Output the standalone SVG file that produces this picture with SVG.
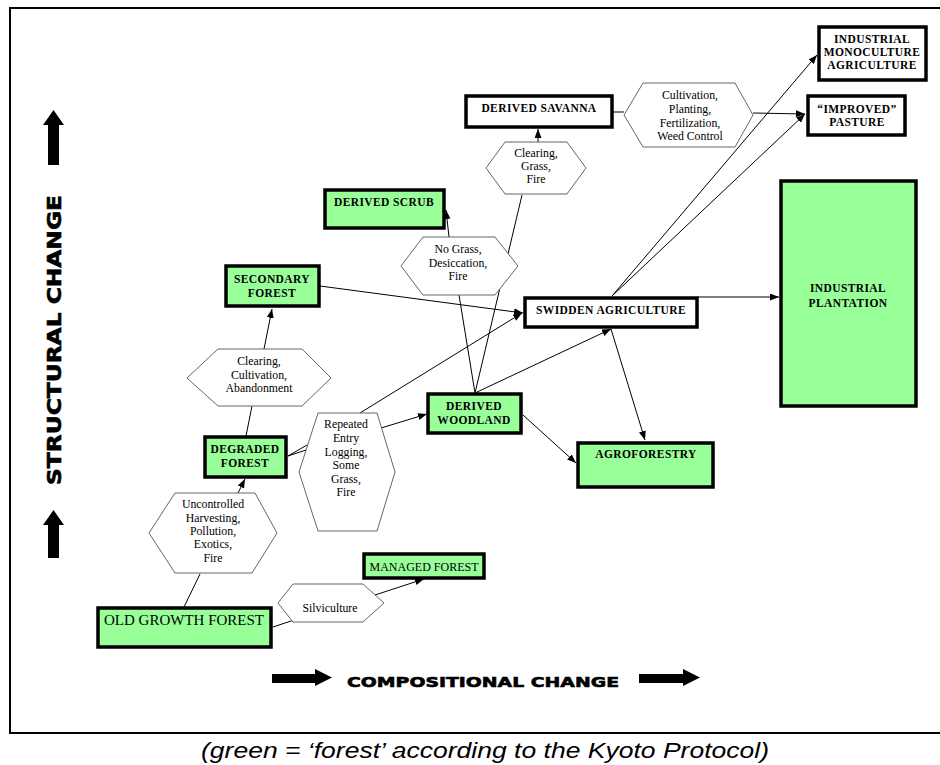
<svg xmlns="http://www.w3.org/2000/svg" width="940" height="765" viewBox="0 0 940 765">
<style>
.box{stroke:#000;stroke-width:3.5}
.g{fill:#99ff99}
.w{fill:#fff}
.hex{fill:#fff;stroke:#666;stroke-width:1}
.lb{font-family:"Liberation Serif","Times New Roman",serif;font-weight:bold;font-size:11.5px;letter-spacing:0.4px;fill:#000;text-anchor:middle}
.ht{font-family:"Liberation Serif","Times New Roman",serif;font-size:11.8px;fill:#000;text-anchor:middle}
.cn line{stroke:#000;stroke-width:1}
.ax{font-family:"DejaVu Sans","Liberation Sans",sans-serif;font-weight:bold;fill:#000;stroke:#000;stroke-width:0.6}
</style>
<defs>
<marker id="ah" markerUnits="userSpaceOnUse" markerWidth="10" markerHeight="8" refX="9" refY="3.5" orient="auto">
<path d="M0,0 L9,3.5 L0,7 z" fill="#000"/>
</marker>
</defs>
<rect x="0" y="0" width="940" height="765" fill="#fff"/>
<!-- frame -->
<path d="M942,8 L10,8 L10,733 L942,733" fill="none" stroke="#000" stroke-width="2"/>

<!-- axis arrows -->
<g id="axis">
<polygon points="53.5,110 64,125 59,125 59,165 48,165 48,125 43,125" fill="#000"/>
<polygon points="53.5,510 64,525 59,525 59,558 48,558 48,525 43,525" fill="#000"/>
<polygon points="272,674 315,674 315,669 332,677.5 315,686 315,683 272,683" fill="#000"/>
<polygon points="639,674 683,674 683,669 700,677.5 683,686 683,683 639,683" fill="#000"/>
<text class="ax" x="0" y="0" font-size="19" textLength="290" lengthAdjust="spacingAndGlyphs" transform="translate(61,485) rotate(-90)">STRUCTURAL CHANGE</text>
<text class="ax" x="347" y="687" font-size="14" textLength="272" lengthAdjust="spacingAndGlyphs">COMPOSITIONAL CHANGE</text>
</g>

<!-- connectors -->
<g id="connectors" class="cn">
<line x1="184" y1="607" x2="200" y2="574"/>
<line x1="238" y1="493" x2="245" y2="479" marker-end="url(#ah)"/>
<line x1="246" y1="436" x2="252" y2="406"/>
<line x1="264" y1="349" x2="272" y2="309" marker-end="url(#ah)"/>
<line x1="320" y1="286" x2="523" y2="313" marker-end="url(#ah)"/>
<line x1="288" y1="456" x2="307" y2="445"/>
<line x1="288" y1="456" x2="309" y2="449"/>
<line x1="360" y1="413" x2="522" y2="313" marker-end="url(#ah)"/>
<line x1="381" y1="428" x2="427" y2="414" marker-end="url(#ah)"/>
<line x1="475" y1="393" x2="459" y2="295"/>
<line x1="449" y1="237" x2="446" y2="210" marker-end="url(#ah)"/>
<line x1="475" y1="393" x2="522" y2="195"/>
<line x1="538" y1="142" x2="538" y2="129" marker-end="url(#ah)"/>
<line x1="475" y1="393" x2="611" y2="329" marker-end="url(#ah)"/>
<line x1="523" y1="415" x2="576" y2="463" marker-end="url(#ah)"/>
<line x1="611" y1="329" x2="645" y2="440" marker-end="url(#ah)"/>
<line x1="698" y1="297" x2="779" y2="297" marker-end="url(#ah)"/>
<line x1="612" y1="296" x2="817" y2="55" marker-end="url(#ah)"/>
<line x1="612" y1="296" x2="805" y2="114" marker-end="url(#ah)"/>
<line x1="613" y1="112" x2="624" y2="112"/>
<line x1="753" y1="113" x2="805" y2="114" marker-end="url(#ah)"/>
<line x1="273" y1="627" x2="297" y2="619"/>
<line x1="375" y1="595" x2="424" y2="579" marker-end="url(#ah)"/>
</g>

<!-- process hexagons -->
<g id="hex-uncontrolled">
<polygon class="hex" points="175,493 255,493 277,533 252,573 175,573 149,533"/>
<text class="ht" x="213" y="508">Uncontrolled</text>
<text class="ht" x="213" y="522">Harvesting,</text>
<text class="ht" x="213" y="535">Pollution,</text>
<text class="ht" x="213" y="548">Exotics,</text>
<text class="ht" x="213" y="562">Fire</text>
</g>
<g id="hex-clearing-cultivation">
<polygon class="hex" points="218,349 302,349 331,378 302,406 218,406 187,378"/>
<text class="ht" x="259" y="365">Clearing,</text>
<text class="ht" x="259" y="379">Cultivation,</text>
<text class="ht" x="259" y="392">Abandonment</text>
</g>
<g id="hex-repeated">
<polygon class="hex" points="318,413 377,413 395,472 377,531 318,531 299,472"/>
<text class="ht" x="346" y="428">Repeated</text>
<text class="ht" x="346" y="442">Entry</text>
<text class="ht" x="346" y="456">Logging,</text>
<text class="ht" x="346" y="469">Some</text>
<text class="ht" x="346" y="483">Grass,</text>
<text class="ht" x="346" y="496">Fire</text>
</g>
<g id="hex-nograss">
<polygon class="hex" points="423,237 495,237 518,266 495,295 423,295 401,266"/>
<text class="ht" x="458" y="253">No Grass,</text>
<text class="ht" x="458" y="267">Desiccation,</text>
<text class="ht" x="458" y="280">Fire</text>
</g>
<g id="hex-clearing-grass">
<polygon class="hex" points="505,142 567,142 586,168 567,194 505,194 486,168"/>
<text class="ht" x="536" y="157">Clearing,</text>
<text class="ht" x="536" y="170">Grass,</text>
<text class="ht" x="536" y="183">Fire</text>
</g>
<g id="hex-cultivation">
<polygon class="hex" points="643,83 735,83 753,115 735,147 643,147 624,115"/>
<text class="ht" x="690" y="99">Cultivation,</text>
<text class="ht" x="690" y="113">Planting,</text>
<text class="ht" x="690" y="127">Fertilization,</text>
<text class="ht" x="690" y="140">Weed Control</text>
</g>
<g id="hex-silviculture">
<polygon class="hex" points="293,584 363,584 384,603 363,622 293,622 278,603"/>
<text class="ht" x="330" y="612" font-size="11.5">Silviculture</text>
</g>

<!-- state nodes -->
<g id="old-growth-forest">
<rect class="box g" x="98" y="608" width="173" height="39"/>
<text x="184" y="625" font-family="Liberation Serif, Times New Roman, serif" font-size="15" text-anchor="middle" fill="#000">OLD GROWTH FOREST</text>
</g>
<g id="managed-forest">
<rect class="box g" x="364" y="554" width="120" height="24" stroke-width="3"/>
<text x="424" y="571" font-family="Liberation Serif, Times New Roman, serif" font-size="12" text-anchor="middle" fill="#000">MANAGED FOREST</text>
</g>
<g id="degraded-forest">
<rect class="box g" x="205" y="437" width="81" height="40"/>
<text class="lb" x="245" y="453">DEGRADED</text>
<text class="lb" x="245" y="467">FOREST</text>
</g>
<g id="secondary-forest">
<rect class="box g" x="226" y="266" width="93" height="40"/>
<text class="lb" x="272" y="283">SECONDARY</text>
<text class="lb" x="272" y="297">FOREST</text>
</g>
<g id="derived-scrub">
<rect class="box g" x="325" y="190" width="119" height="38"/>
<text class="lb" x="384" y="206">DERIVED SCRUB</text>
</g>
<g id="derived-woodland">
<rect class="box g" x="428" y="394" width="93" height="39"/>
<text class="lb" x="474" y="410">DERIVED</text>
<text class="lb" x="474" y="424">WOODLAND</text>
</g>
<g id="derived-savanna">
<rect class="box w" x="466" y="96" width="146" height="31"/>
<text class="lb" x="539" y="112">DERIVED SAVANNA</text>
</g>
<g id="swidden-agriculture">
<rect class="box w" x="525" y="298" width="172" height="29"/>
<text class="lb" x="611" y="314">SWIDDEN AGRICULTURE</text>
</g>
<g id="agroforestry">
<rect class="box g" x="578" y="443" width="135" height="44"/>
<text class="lb" x="646" y="458">AGROFORESTRY</text>
</g>
<g id="industrial-plantation">
<rect class="box g" x="781" y="181" width="135" height="225"/>
<text class="lb" x="848" y="292">INDUSTRIAL</text>
<text class="lb" x="848" y="307">PLANTATION</text>
</g>
<g id="industrial-monoculture">
<rect class="box w" x="819" y="27" width="107" height="53"/>
<text class="lb" x="872" y="43">INDUSTRIAL</text>
<text class="lb" x="872" y="56">MONOCULTURE</text>
<text class="lb" x="872" y="69">AGRICULTURE</text>
</g>
<g id="improved-pasture">
<rect class="box w" x="808" y="96" width="97" height="39"/>
<text class="lb" x="857" y="113">“IMPROVED”</text>
<text class="lb" x="857" y="126">PASTURE</text>
</g>

<text x="201" y="758" font-family="Liberation Sans, Arial, sans-serif" font-style="italic" font-size="22" textLength="568" lengthAdjust="spacingAndGlyphs" fill="#000">(green = ‘forest’ according to the Kyoto Protocol)</text>
</svg>
